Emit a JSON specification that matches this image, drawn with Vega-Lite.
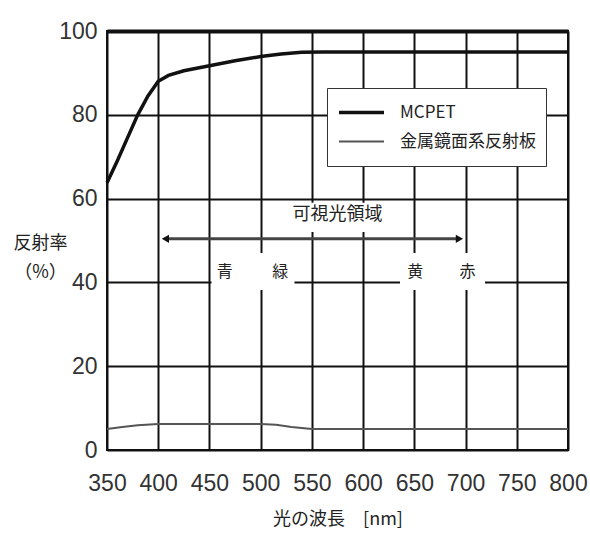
{
  "$schema": "https://vega.github.io/schema/vega-lite/v6.json",
  "width": 461,
  "height": 419,
  "autosize": {"type": "none"},
  "padding": {"left": 107, "top": 31, "right": 22, "bottom": 88},
  "background": "white",
  "config": {"view": {"stroke": "#111", "strokeWidth": 2}},
  "datasets": {
    "curves": [
      {"nm": 350, "pct": 63.8, "series": "MCPET"},
      {"nm": 360, "pct": 69.0, "series": "MCPET"},
      {"nm": 370, "pct": 74.5, "series": "MCPET"},
      {"nm": 380, "pct": 80.0, "series": "MCPET"},
      {"nm": 390, "pct": 84.5, "series": "MCPET"},
      {"nm": 400, "pct": 88.0, "series": "MCPET"},
      {"nm": 410, "pct": 89.4, "series": "MCPET"},
      {"nm": 425, "pct": 90.5, "series": "MCPET"},
      {"nm": 450, "pct": 91.7, "series": "MCPET"},
      {"nm": 475, "pct": 92.9, "series": "MCPET"},
      {"nm": 500, "pct": 93.9, "series": "MCPET"},
      {"nm": 520, "pct": 94.5, "series": "MCPET"},
      {"nm": 540, "pct": 94.9, "series": "MCPET"},
      {"nm": 560, "pct": 95.0, "series": "MCPET"},
      {"nm": 800, "pct": 95.0, "series": "MCPET"},
      {"nm": 350, "pct": 5.0, "series": "金属鏡面系反射板"},
      {"nm": 365, "pct": 5.5, "series": "金属鏡面系反射板"},
      {"nm": 380, "pct": 5.9, "series": "金属鏡面系反射板"},
      {"nm": 400, "pct": 6.2, "series": "金属鏡面系反射板"},
      {"nm": 450, "pct": 6.2, "series": "金属鏡面系反射板"},
      {"nm": 500, "pct": 6.2, "series": "金属鏡面系反射板"},
      {"nm": 515, "pct": 6.0, "series": "金属鏡面系反射板"},
      {"nm": 530, "pct": 5.5, "series": "金属鏡面系反射板"},
      {"nm": 550, "pct": 5.0, "series": "金属鏡面系反射板"},
      {"nm": 800, "pct": 5.0, "series": "金属鏡面系反射板"}
    ],
    "masks": [
      {"nm": 528, "nm2": 622, "pct": 52, "pct2": 59},
      {"nm": 452, "nm2": 533, "pct": 38.2, "pct2": 47},
      {"nm": 636, "nm2": 719, "pct": 38.2, "pct2": 47}
    ],
    "arrow": [
      {"nm": 407, "nm2": 694, "pct": 50.4}
    ],
    "title": [
      {"nm": 575, "pct": 56, "label": "可視光領域"}
    ],
    "colors": [
      {"nm": 465, "pct": 42.5, "label": "青"},
      {"nm": 519, "pct": 42.5, "label": "緑"},
      {"nm": 651, "pct": 42.5, "label": "黄"},
      {"nm": 702, "pct": 42.5, "label": "赤"}
    ]
  },
  "encoding": {
    "x": {
      "field": "nm",
      "type": "quantitative",
      "scale": {"domain": [350, 800], "nice": false, "zero": false},
      "axis": {
        "values": [350, 400, 450, 500, 550, 600, 650, 700, 750, 800],
        "title": "光の波長　[nm]",
        "grid": true,
        "ticks": false,
        "domain": false,
        "labelPadding": 22,
        "labelFlush": false,
        "labelFont": "Liberation Sans",
        "labelFontSize": 23,
        "labelColor": "#333",
        "gridColor": "#111",
        "gridOpacity": 1,
        "gridWidth": 2,
        "titleFont": "Noto Sans CJK JP",
        "titleFontSize": 18,
        "titleFontWeight": "normal",
        "titleColor": "#222",
        "titleY": 60
      }
    },
    "y": {
      "field": "pct",
      "type": "quantitative",
      "scale": {"domain": [0, 100], "nice": false},
      "axis": {
        "values": [0, 20, 40, 60, 80, 100],
        "title": ["反射率", "（%）"],
        "grid": true,
        "ticks": false,
        "domain": false,
        "labelPadding": 10,
        "labelFont": "Liberation Sans",
        "labelFontSize": 23,
        "labelColor": "#333",
        "gridColor": "#111",
        "gridOpacity": 1,
        "gridWidth": {"condition": {"test": "datum.value === 100", "value": 4}, "value": 2},
        "titleFont": "Noto Sans CJK JP",
        "titleFontSize": 18,
        "titleFontWeight": "normal",
        "titleColor": "#222",
        "titleAngle": 0,
        "titleAlign": "center",
        "titleBaseline": "top",
        "titleX": -67,
        "titleY": 203,
        "titleLineHeight": 29
      }
    }
  },
  "layer": [
    {
      "data": {"name": "masks"},
      "mark": {"type": "rect", "color": "white"},
      "encoding": {
        "x2": {"field": "nm2"},
        "y2": {"field": "pct2"}
      }
    },
    {
      "data": {"name": "curves"},
      "mark": {"type": "line"},
      "encoding": {
        "color": {
          "field": "series",
          "type": "nominal",
          "scale": {"domain": ["MCPET", "金属鏡面系反射板"], "range": ["#111111", "#555555"]},
          "legend": {
            "orient": "none",
            "legendX": 220,
            "legendY": 57,
            "title": null,
            "fillColor": "white",
            "strokeColor": "#333",
            "padding": 10,
            "symbolType": "stroke",
            "symbolSize": 2025,
            "labelFont": "Noto Sans CJK JP",
            "labelFontSize": 17,
            "labelColor": "#222",
            "labelOffset": 14,
            "clipHeight": 29,
            "rowPadding": 0
          }
        },
        "strokeWidth": {
          "field": "series",
          "type": "nominal",
          "scale": {"domain": ["MCPET", "金属鏡面系反射板"], "range": [3.5, 2]},
          "legend": {
            "orient": "none",
            "legendX": 220,
            "legendY": 57,
            "title": null,
            "fillColor": "white",
            "strokeColor": "#333",
            "padding": 10,
            "symbolType": "stroke",
            "symbolSize": 2025,
            "labelFont": "Noto Sans CJK JP",
            "labelFontSize": 17,
            "labelColor": "#222",
            "labelOffset": 14,
            "clipHeight": 29,
            "rowPadding": 0
          }
        }
      }
    },
    {
      "data": {"name": "arrow"},
      "mark": {"type": "rule", "color": "#444", "strokeWidth": 3},
      "encoding": {
        "x2": {"field": "nm2"}
      }
    },
    {
      "data": {"name": "arrow"},
      "mark": {"type": "point", "shape": "triangle-left", "filled": true, "color": "#111", "size": 70, "opacity": 1}
    },
    {
      "data": {"name": "arrow"},
      "mark": {"type": "point", "shape": "triangle-right", "filled": true, "color": "#111", "size": 70, "opacity": 1},
      "encoding": {
        "x": {"field": "nm2", "type": "quantitative"}
      }
    },
    {
      "data": {"name": "title"},
      "mark": {"type": "text", "font": "Noto Sans CJK JP", "fontSize": 18, "color": "#222", "baseline": "middle", "align": "center"},
      "encoding": {"text": {"field": "label"}}
    },
    {
      "data": {"name": "colors"},
      "mark": {"type": "text", "font": "Noto Sans CJK JP", "fontSize": 16, "color": "#222", "baseline": "middle", "align": "center"},
      "encoding": {"text": {"field": "label"}}
    }
  ]
}
